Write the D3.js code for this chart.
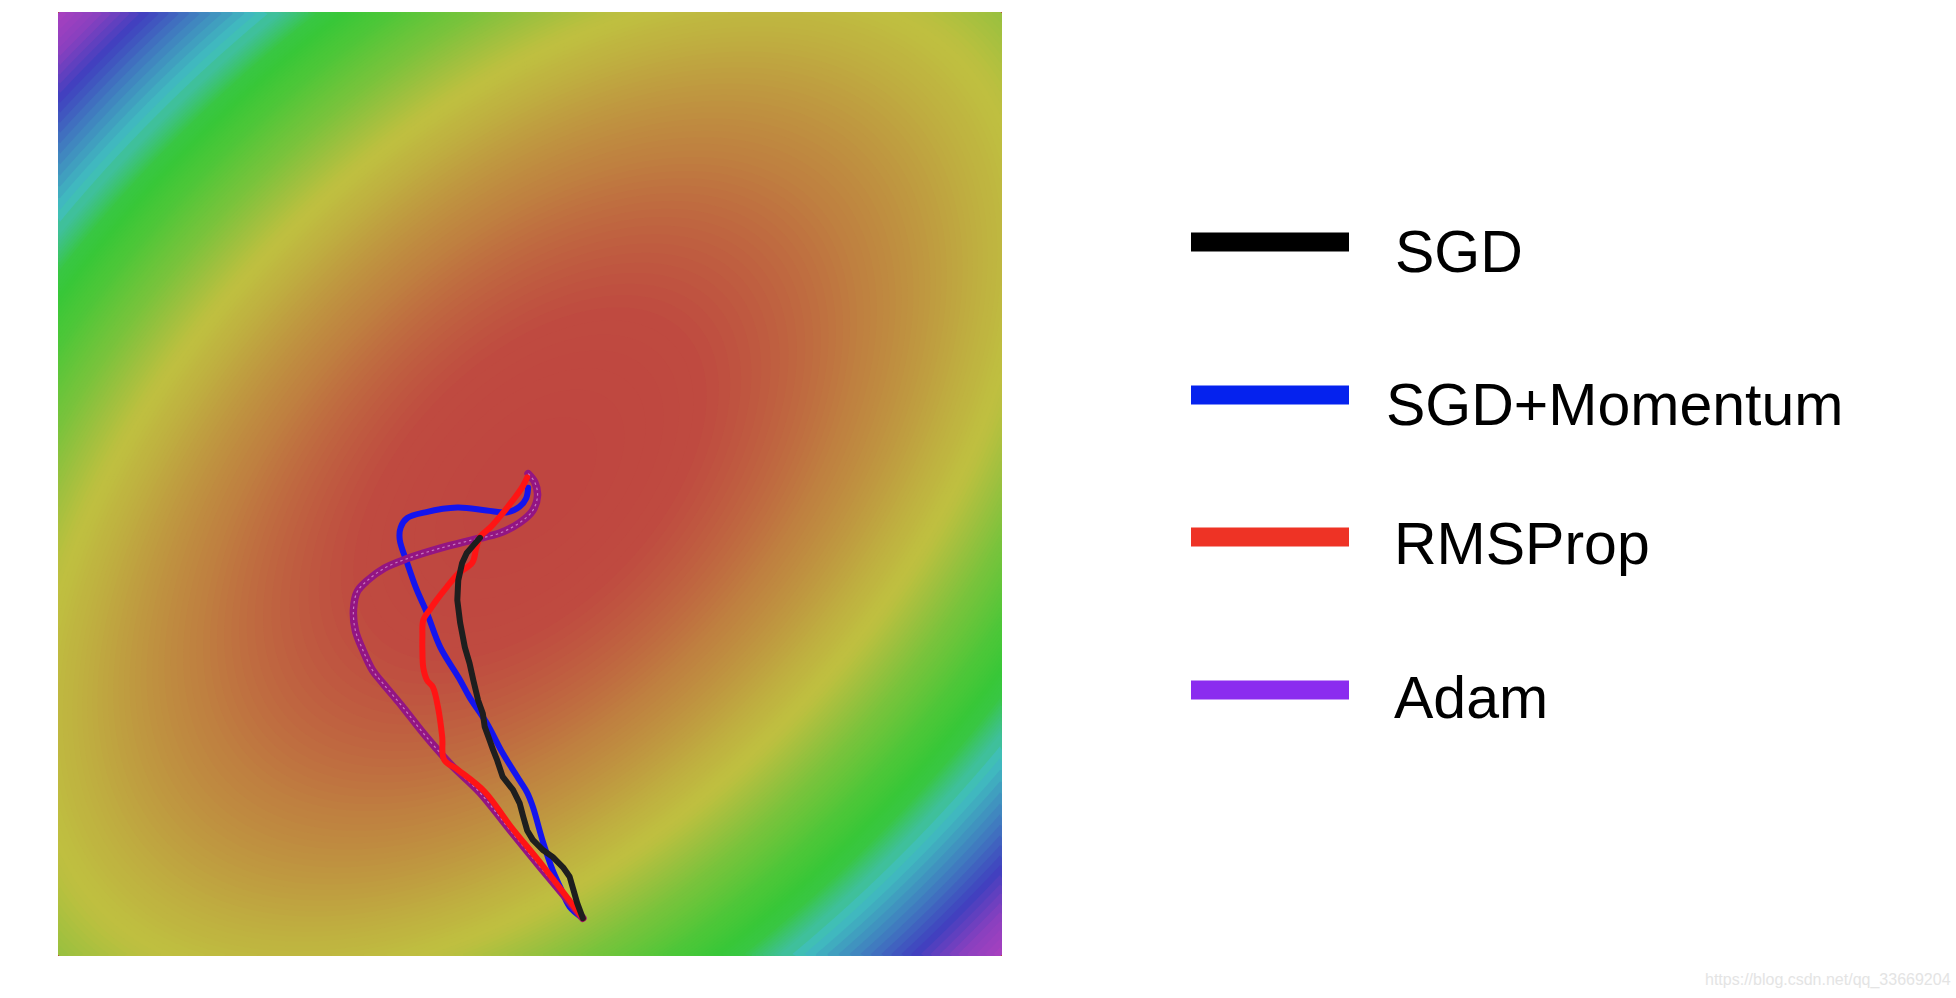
<!DOCTYPE html>
<html>
<head>
<meta charset="utf-8">
<script src="https://cdn.jsdelivr.net/npm/d3@7"></script>
<style>
  html, body { margin: 0; padding: 0; background: #ffffff; }
  svg { display: block; }
</style>
</head>
<body>
<svg id="chart" width="1956" height="998"></svg>
<script>
// ---------------- DATA (data units, x right, y up, domain 0..100) ----------------
const seriesNames = ["SGD", "SGD+Momentum", "RMSProp", "Adam"];

const sgdPath = [
  [55.6,4.0],[55.0,5.6],[54.6,7.0],[54.2,8.4],[53.5,9.4],[52.4,10.5],[51.4,11.2],
  [50.3,12.3],[49.7,13.3],[49.3,14.7],[48.9,16.2],[48.2,17.6],[47.1,19.0],[46.5,20.8],
  [46.1,21.8],[45.6,23.2],[45.2,24.3],[45.0,25.7],[44.5,27.1],[44.0,29.2],[43.6,31.0],
  [43.1,32.7],[42.6,35.3],[42.3,37.7],[42.4,39.8],[42.8,41.6],[43.3,42.7],[44.0,43.5],
  [44.7,44.3]
];
const momentumPath = [
  [55.6,4.0],[54.2,5.2],[53.2,7.3],[52.4,9.1],[51.4,12.0],[50.3,15.8],[49.7,17.3],
  [48.9,18.6],[47.1,21.5],[45.4,24.7],[43.6,27.4],[42.5,29.4],[40.5,32.7],[39.1,36.3],
  [38.0,38.8],[37.0,41.6],[36.2,44.1],[36.3,45.4],[37.0,46.4],[38.9,47.0],[42.3,47.5],
  [45.4,47.2],[47.6,47.0],[48.9,47.6],[49.6,48.5],[49.8,49.6]
];
const rmspropPath = [
  [55.6,4.0],[51.4,9.5],[47.9,13.8],[45.2,17.4],[42.4,19.7],[40.9,20.8],[40.7,23.2],
  [40.3,26.1],[39.7,28.5],[39.1,29.2],[38.7,30.5],[38.6,32.4],[38.6,33.8],[38.7,35.6],
  [39.4,36.7],[40.1,37.7],[41.2,39.1],[42.4,40.5],[43.9,41.7],[44.3,43.2],[44.7,44.4],
  [45.8,45.4],[47.1,46.9],[48.2,48.3],[49.2,49.7],[49.7,50.7]
];
const adamPath = [
  [55.6,4.0],[51.1,9.4],[47.6,13.7],[44.7,17.3],[41.5,20.4],[38.7,23.6],[36.5,26.4],
  [34.4,28.9],[33.3,30.3],[32.3,32.4],[31.5,34.5],[31.3,36.7],[31.7,38.6],[32.8,39.8],
  [34.6,41.1],[37.0,42.1],[40.5,43.2],[44.0,44.1],[46.8,44.8],[48.9,45.9],[50.3,47.2],
  [50.8,48.8],[50.5,50.2],[49.8,51.1]
];

// loss surface parameters (elliptic bowl, rotated 45 degrees)
const surfaceCenter = [50, 50];
const surfaceCurvature = [2.0, 0.667];   // along main diagonal, along anti-diagonal
const colorStops = [0, 0.03, 0.12, 0.22, 0.28, 0.333, 0.37, 0.45, 0.545, 0.625, 0.813, 0.903, 1.0];
const hueStops   = [3, 5, 30, 52, 62, 80, 92, 110, 125, 180, 240, 275, 292];

const watermark = "https://blog.csdn.net/qq_33669204";

// ---------------- STYLES / LAYOUT ----------------
const plotLeft = 58, plotTop = 12, plotSize = 944;
const lineColors = ["#1e1e1e", "#1414ee", "#ff1414", "#931583"];
const lineWidths = [6, 6, 6, 7.5];
const legendColors = ["#000000", "#0522ee", "#ee3325", "#8b2cef"];
const legendBarX = [1191, 1349];
const legendLineY = [242, 395, 537, 690];
const legendTextX = [1395, 1386, 1394, 1394];
const legendTextY = [272, 425, 564, 718];

const svg = d3.select("#chart");

const x = d3.scaleLinear().domain([0, 100]).range([plotLeft, plotLeft + plotSize]);
const y = d3.scaleLinear().domain([0, 100]).range([plotTop + plotSize, plotTop]);

// ---------------- Background surface via d3.contours ----------------
const n = 236;
const values = new Array(n * n);
for (let j = 0; j < n; j++) {
  for (let i = 0; i < n; i++) {
    const dxv = ((i + 0.5) / n * 100 - surfaceCenter[0]) / 100;          // right
    const dyv = (((j + 0.5) / n * 100) - (100 - surfaceCenter[1])) / 100; // down
    const s = (dxv + dyv) / Math.SQRT2;
    const t = (dxv - dyv) / Math.SQRT2;
    values[j * n + i] = surfaceCurvature[0] * s * s + surfaceCurvature[1] * t * t;
  }
}
const thresholds = d3.range(0, 0.6, 0.005).concat(d3.range(0.6, 1.2, 0.018));
const hue = d3.scaleLinear().domain(colorStops).range(hueStops).clamp(true);
const colorOf = v => {
  const h = hue(v);
  const sat = 0.5 + 0.06 * Math.exp(-Math.pow((h - 118) / 30, 2));
  return d3.hsl(h, sat, 0.5).formatHex();
};
const contours = d3.contours().size([n, n]).thresholds(thresholds)(values);
const gPath = d3.geoPath(d3.geoIdentity().scale(plotSize / n).translate([plotLeft, plotTop]));

const clip = svg.append("defs").append("clipPath").attr("id", "plotclip");
clip.append("rect").attr("x", plotLeft).attr("y", plotTop).attr("width", plotSize).attr("height", plotSize);

const bg = svg.append("g").attr("clip-path", "url(#plotclip)");
bg.append("rect").attr("x", plotLeft).attr("y", plotTop).attr("width", plotSize).attr("height", plotSize)
  .attr("fill", colorOf(0));
bg.selectAll("path.level").data(contours).join("path")
  .attr("class", "level")
  .attr("d", gPath)
  .attr("fill", d => colorOf(d.value));

// ---------------- Optimizer paths ----------------
const line = d3.line().x(d => x(d[0])).y(d => y(d[1])).curve(d3.curveCatmullRom.alpha(0.5));
const lineLin = d3.line().x(d => x(d[0])).y(d => y(d[1]));
const paths = [sgdPath, momentumPath, rmspropPath, adamPath];
const drawOrder = [1, 3, 2, 0];
const pg = svg.append("g").attr("clip-path", "url(#plotclip)");
drawOrder.forEach(k => {
  pg.append("path")
    .attr("d", k === 0 ? lineLin(paths[k]) : line(paths[k]))
    .attr("fill", "none")
    .attr("stroke", lineColors[k])
    .attr("stroke-width", lineWidths[k])
    .attr("stroke-linejoin", "round")
    .attr("stroke-linecap", "round");
  if (k === 3) {
    pg.append("path")
      .attr("d", line(paths[k]))
      .attr("fill", "none")
      .attr("stroke", "#c878bd")
      .attr("stroke-width", 1.2)
      .attr("stroke-dasharray", "2.5,3");
  }
});

// ---------------- Legend ----------------
const lg = svg.append("g");
seriesNames.forEach((name, k) => {
  lg.append("rect")
    .attr("x", legendBarX[0]).attr("y", legendLineY[k] - 9.5)
    .attr("width", legendBarX[1] - legendBarX[0]).attr("height", 19)
    .attr("fill", legendColors[k]);
  lg.append("text")
    .attr("x", legendTextX[k]).attr("y", legendTextY[k])
    .attr("font-family", "'Liberation Sans', Arial, sans-serif")
    .attr("font-size", 59)
    .attr("fill", "#000")
    .text(name);
});

// watermark
svg.append("text")
  .attr("x", 1705).attr("y", 985)
  .attr("font-family", "'Liberation Sans', Arial, sans-serif")
  .attr("font-size", 16)
  .attr("fill", "#e4e4e4")
  .text(watermark);
</script>
</body>
</html>
